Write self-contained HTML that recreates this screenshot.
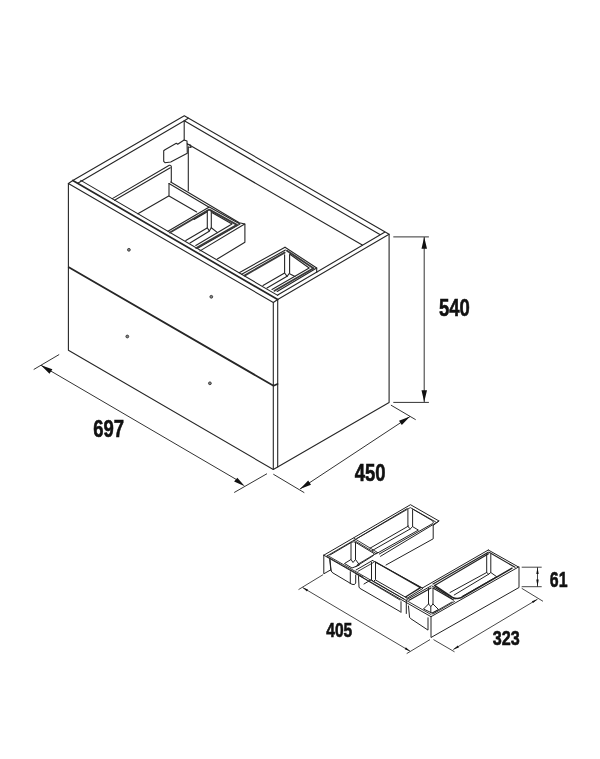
<!DOCTYPE html>
<html><head><meta charset="utf-8"><style>
html,body{margin:0;padding:0;background:#fff;}
svg{display:block;will-change:transform;}
.t{font-family:"Liberation Sans",sans-serif;font-weight:bold;fill:#111;stroke:#111;stroke-width:0.6;}
</style></head><body>
<svg width="600" height="759" viewBox="0 0 600 759">
<rect width="600" height="759" fill="#fff"/>
<g fill="none" stroke="#262626" stroke-width="1.1" stroke-linejoin="round" stroke-linecap="round">
<!-- cabinet outline -->
<path d="M68.4 183.5 V350.3 L273.3 469.5 L389.1 402.5 V234.2"/>
<path d="M68.4 183.5 L273.3 302.5 V469.5"/>
<path d="M277.7 299.5 V467"/>
<path d="M68.4 183.5 L72.8 180.5"/>
<!-- top rim outer -->
<path d="M72.8 180.5 L184.3 115.7 L389.1 234.2 L277.7 299.5 L273.3 302.5"/>
<path d="M72.8 180.5 L277.7 299.5" stroke-width="1.7"/>
<!-- top rim inner -->
<path d="M77.7 183.2 L184.3 120.8 L380.3 234.8 L277.7 295 M380.3 234.8 L384.6 232.3 M184.3 120.8 L188.3 118.2"/>
<path d="M80.8 180.4 L277.7 295.4"/>
<!-- drawer gap -->
<path d="M68.8 267.2 L273.5 385.8 L277.5 384" stroke-width="1.8"/>
<!-- back inner corner + bracket -->
<path d="M184.2 120.5 V140"/>
<path d="M184.1 140 L187 141 L187.3 153.3 L170.7 162 L165 162.7 L163.7 161.3 L163.7 150.7 L165 149.7 L176.3 143.3 L177.7 144.3 Z"/>
<path d="M188.3 147 V190.7"/>
<path d="M187.3 143.7 L362.3 245.1"/>
<path d="M187.5 144.5 L190.5 145 L191 147.5 L188.5 147"/>
<!-- drawer left wall -->
<path d="M112.3 198.6 L169.3 165.3 Q170.7 164.8 171.3 166.5 V182"/>
<path d="M114.5 200.3 L170.3 167.8"/>
<path d="M137.9 213.8 L168.7 196"/>
<!-- partition -->
<path d="M169 183.5 V196 L196.7 212"/>
<path d="M169 183.5 L208.7 207"/>
<path d="M170.7 182 L239.3 222.7 L244.9 224 V242.3 L217.3 259"/>
<!-- tray 1 -->
<path d="M209.3 207 L168 231.2 M209.3 207 L240 224 L197.6 248.2 M244.7 224 L200 250.9"/>
<path d="M208.8 209.8 L170 232.5 M209.8 209.8 L237 224.8 L196.3 248" stroke-width="1.9" stroke="#3a3a3a"/>
<path d="M206.5 212.3 L194 219.5 M212.3 212.7 L232 224 L195.8 245.5"/>
<path d="M207.3 210.5 V227.7 L209.3 231 L211.3 227.7 V210.5"/>
<path d="M207.1 228 L185.8 240.5 M209.2 231.3 L190 243 M211.3 227.7 L217.5 232.6"/>
<!-- tray 2 -->
<path d="M285 247.2 L239.2 272.7 M285.4 250.1 L241.7 274.2 M285 247.2 L316.7 268 V272.5"/>
<path d="M284.6 252.6 L244.5 275.6 M287 250.7 L313.5 268.2 L274.5 290.7" stroke-width="1.9" stroke="#3a3a3a"/>
<path d="M316.7 268 L277.2 291.5 M309.2 268 L272 289.5 M289.6 254 L309.2 268"/>
<path d="M284.6 254.7 V273 L287.1 276.3 L289.6 273 V254.7"/>
<path d="M284.6 273 L263 285.5 M287.1 276.3 L267 288 M289.6 273.8 L295 276.5"/>
</g>
<!-- dimension lines -->
<g fill="none" stroke="#333" stroke-width="1">
<path d="M393.3 236.9 H428.9 M393.3 402.4 H428.9 M424.2 237 V402"/>
<path d="M33.7 369.5 L59.2 354.5 M234.2 492.5 L267 473.7 M41 365.3 L236 479.3"/>
<path d="M390.9 405.1 L415.7 419.7 M273.3 474.2 L304.3 492.7 M300 489 L410 416.5"/>
</g>
<g fill="#111">
<path d="M424.2 237 L421.5 248.7 L427 248.7 Z M424.2 402 L421.5 390.3 L427 390.3 Z"/>
<path d="M41 365.3 L49.5 373.7 L52.4 369.3 Z M244.8 486.3 L234.1 481.6 L237.3 477.8 Z"/>
<path d="M300 489 L311 484.8 L308.2 480.6 Z M410 416.5 L401.8 424.9 L399 420.7 Z"/>
<circle cx="128.9" cy="249.8" r="1.4" fill="#888" stroke="#333" stroke-width="0.9"/><circle cx="211.3" cy="296.8" r="1.4" fill="#888" stroke="#333" stroke-width="0.9"/>
<circle cx="127.3" cy="336.5" r="1.4" fill="#888" stroke="#333" stroke-width="0.9"/><circle cx="209.9" cy="383.3" r="1.4" fill="#888" stroke="#333" stroke-width="0.9"/>
</g>
<text class="t" x="0" y="0" font-size="24" transform="translate(438.9,315.5) scale(0.77,1)">540</text>
<text class="t" x="0" y="0" font-size="24" transform="translate(93.3,436.9) scale(0.77,1)">697</text>
<text class="t" x="0" y="0" font-size="24" transform="translate(354.7,481.3) scale(0.77,1)">450</text>
<!-- organizer -->
<g fill="none" stroke="#222" stroke-width="1" stroke-linejoin="round" stroke-linecap="round">
<!-- left end face -->
<path d="M323.8 555.2 V573.8 L330.5 570 M329.7 559.5 L330.9 570.4"/>
<!-- outer left rim -->
<path d="M323.8 555.2 L410.5 504.7 L439 521 L433.5 525.2"/>
<path d="M326.8 556 L410.3 507.6 L435.5 521.8" stroke-width="0.9"/>
<!-- front edge -->
<path d="M323.8 555.2 L431 616.7 L518.5 567"/>
<path d="M327.5 555.5 L431 614.5" stroke-width="0.9"/>
<!-- right face -->
<path d="M431 616.7 V637.5 L519 587.5 V567"/>
<!-- LA -->
<path d="M439 521 L380.5 556.3"/>
<path d="M433.2 525.4 V538.8 L386 565"/>
<path d="M407.9 509.7 V526.6 L410.3 528.8 L412.6 526.6 V509.7"/>
<path d="M407.3 508.5 L357 538.5 M412.6 509 L432.6 520.8 Q434.2 522.2 432.6 523.6 L379.3 554"/>
<path d="M408.5 526 L370 548.2 M410.3 528.9 L372.3 550.5 M412.6 526.6 L418.4 530.1 L375.8 554"/>
<!-- FL -->
<path d="M354 538.3 L377.5 552.5 M354 540.2 L375.5 553.2" stroke-width="0.9"/>
<path d="M330 555 L351.5 542.3 Q353.5 541.2 355.5 542.3 L373.5 553.2 Q375 554.5 373.3 555.6 L356 566.5"/>
<path d="M377.5 552.5 L357.5 564.5" stroke-width="0.9"/>
<path d="M351 542.5 V559.5 L353 562.5 L355.5 559.5 V542.5"/>
<path d="M351 559.5 L344.5 563.5 L352 568 L359.5 565 L355.5 559.5"/>
<path d="M327 556.5 L363 577" stroke-width="0.9"/>
<path d="M330 559.5 L331 570 Q331.5 572.5 333 573 L352 584.3 Q355 585.5 355.7 583 V575 M350.3 571.7 V583.7"/>
<!-- M -->
<path d="M372.5 560.5 L356 570 M372.5 560.5 L423 588.3 L407 598.3"/>
<path d="M373.5 562.5 L358 571.3" stroke-width="0.9"/>
<path d="M375.5 562 L420.5 587.6 L405.5 597" stroke-width="1.4"/>
<path d="M371.5 562.5 V579.5 L373.5 581.5 L375.5 579.5 V562.5"/>
<path d="M375.5 580 L407 598 M374 581.5 L404 599 M371.5 579.5 L364 584"/>
<path d="M355.5 573.5 L400 600" stroke-width="0.9"/>
<path d="M358.5 576.5 L359 587 Q359.5 588.5 361 589 L400.3 611.7 M401 601.7 V612.3 M406.3 600 V613.5"/>
<!-- FR -->
<path d="M431 586 L407 599.5 M432 586 L455 599"/>
<path d="M431 588 L409 600.3 M433 588 L453.5 600" stroke-width="1.3"/>
<path d="M454.5 601.5 L433 614 M452 602 L432 613.5" stroke-width="0.9"/>
<path d="M428.5 588.5 V604 L430.8 606.5 L433 604 V588.5"/>
<path d="M428.5 604 L423.5 609 L432 613 L438.5 609.5 L433 604 M430.8 606.5 V612.5"/>
<path d="M408.5 606 L409.5 617 Q409.8 618 410.5 618.5 L428 630.1 V617.8"/>
<!-- RA -->
<path d="M488.3 550 L422.4 588 M488.3 550 L518.5 567"/>
<path d="M488.3 552.2 L433 584 M488.5 553.8 L435 585.2" stroke-width="1.2"/>
<path d="M489.5 552.5 L515 567.3" stroke-width="1.2"/>
<path d="M434.6 585.5 L452.5 597.3 Q456.5 599.5 460.8 597.8 L512 568.2" stroke-width="1.5"/>
<path d="M436 588 L452 598.8" stroke-width="0.9"/>
<path d="M486.7 554.2 V572.5 L488.7 574.2 L490.8 572.5 V554.2"/>
<path d="M486.7 572.5 L450 592.5 M488.7 574.2 L454.2 595 M490.8 572.5 L496.7 576.7 L462 596.5"/>
</g>
<g fill="none" stroke="#333" stroke-width="0.9">
<path d="M298.5 589.6 L323 574.7 M406.7 653.6 L430 639.6 M302.6 587.5 L410.2 651.3"/>
<path d="M521.7 588.3 L543 601.3 M433.5 639.6 L454.5 651.8 M453.3 649.5 L537.5 599.2"/>
<path d="M521.7 567.2 H541.7 M521.7 586.7 H541.7 M537.5 567.2 V586.7"/>
</g>
<g fill="#111">
<path d="M302.6 587.5 L308 589.5 L307 591.5 Z M410.2 651.3 L404.8 649.3 L405.8 647.3 Z"/>
<path d="M453.3 649.5 L457.8 645.6 L458.9 647.4 Z M537.5 599.2 L533 603.1 L531.9 601.3 Z"/>
<path d="M537.5 567.2 L536.3 574 L538.7 574 Z M537.5 586.7 L536.3 579.5 L538.7 579.5 Z"/>
</g>
<text class="t" x="0" y="0" font-size="20.5" transform="translate(326.3,637.3) scale(0.76,1)">405</text>
<text class="t" x="0" y="0" font-size="21" transform="translate(492.8,645.3) scale(0.77,1)">323</text>
<text class="t" x="0" y="0" font-size="21.5" transform="translate(549.8,586.8) scale(0.74,1)">61</text>
</svg>
</body></html>
